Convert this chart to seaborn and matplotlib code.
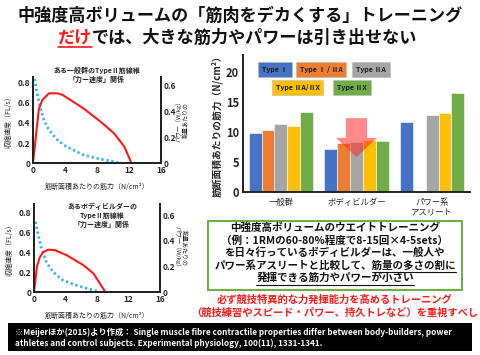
import numpy as np
import pandas as pd
import matplotlib
matplotlib.use("Agg")
import matplotlib.pyplot as plt
import seaborn as sns
from matplotlib.patches import Polygon, Rectangle
from matplotlib.lines import Line2D

# ---------------- data ----------------
top_force_v = [0.2, 0.5, 0.93, 1.36, 2.0, 3.06, 4.1, 6.24, 8.36, 10.0, 10.8]
top_velocity = [0.84, 0.70, 0.55, 0.43, 0.33, 0.23, 0.167, 0.083, 0.04, 0.015, 0.0]
top_force_p = [0, 0.4, 0.73, 1.15, 2.0, 3.08, 3.7, 6.28, 8.42, 10.1, 11.4, 12.3]
top_power = [0, 0.23, 0.42, 0.49, 0.543, 0.543, 0.53, 0.427, 0.323, 0.233, 0.129, 0]

bot_force_v = [0.2, 0.5, 0.94, 1.58, 2.44, 3.7, 5.4, 7.1, 8.2]
bot_velocity = [0.71, 0.59, 0.44, 0.30, 0.20, 0.118, 0.068, 0.027, 0.007]
bot_force_p = [0, 0.38, 0.73, 1.15, 1.8, 2.65, 4.15, 6.28, 7.56, 9.06]
bot_power = [0, 0.20, 0.27, 0.31, 0.33, 0.326, 0.287, 0.209, 0.144, 0]

groups = ["一般群", "ボディビルダー", "パワー系\nアスリート"]
fibre_types = ["Type Ⅰ", "Type Ⅰ / ⅡA", "Type ⅡA", "Type ⅡA/ⅡX", "Type ⅡX"]
type_I = [9.8, 7.2, 11.7]
type_I_IIA = [10.3, 8.2, np.nan]
type_IIA = [11.3, 8.4, 12.8]
type_IIA_IIX = [11.0, 8.7, 13.2]
type_IIX = [13.3, 8.5, 16.5]
bar_colors = ["#4472C4", "#ED7D31", "#A5A5A5", "#FFC000", "#70AD47"]

# ---------------- style ----------------
sns.set_theme(style="white")
FONTS = ["Noto Sans CJK JP", "DejaVu Sans"]
plt.rcParams["font.family"] = FONTS
plt.rcParams["axes.unicode_minus"] = False

W, H = 480, 355
fig = plt.figure(figsize=(4.8, 3.55), dpi=100)
fig.patch.set_facecolor("white")

def fx(px):
    return px / W

def fy(py):
    return 1 - py / H

def fmt(v):
    return "0" if v == 0 else f"{v:g}"

# ---------------- left panels ----------------
def curve_panel(rect, fv, vel, fp, pw, ylim_l, ylim_r, title, title_xy, right_rot, right_label, rx):
    ax = fig.add_axes(rect)
    ax2 = ax.twinx()
    sns.lineplot(x=fv, y=vel, ax=ax, color="#33B5F0", lw=2.0, linestyle=(0, (0.8, 1.0)))
    sns.lineplot(x=fp, y=pw, ax=ax2, color="#FF1A1A", lw=1.5)
    ax.set_xlim(0, 16)
    ax.set_ylim(*ylim_l)
    ax2.set_ylim(*ylim_r)
    ax.set_xticks([0, 4, 8, 12, 16])
    ax.set_yticks([0, 0.2, 0.4, 0.6, 0.8])
    ax.set_yticklabels([fmt(v) for v in [0, 0.2, 0.4, 0.6, 0.8]])
    ax2.set_yticks([0, 0.2, 0.4, 0.6])
    ax2.set_yticklabels([fmt(v) for v in [0, 0.2, 0.4, 0.6]])
    for a in (ax, ax2):
        a.tick_params(length=0, labelsize=6, pad=2)
        for lab in a.get_xticklabels() + a.get_yticklabels():
            lab.set_fontweight("bold")
        a.spines["top"].set_visible(False)
        for s in ("left", "right", "bottom"):
            a.spines[s].set_color("#222222")
            a.spines[s].set_linewidth(1.4)
        a.set_facecolor("none")
    ax.set_xlabel("筋断面積あたりの筋力（N/cm²）", fontsize=5)
    ax.xaxis.set_label_coords(0.5, -20 / (rect[3] * H))
    ax.set_ylabel("収縮速度（FL/s）", fontsize=5)
    ax.yaxis.set_label_coords(-20 / (rect[2] * W), 0.5)
    ax2.set_ylabel(right_label, fontsize=4.3, rotation=right_rot, linespacing=1.1, va="center")
    ax2.yaxis.set_label_coords(rx, 0.5)
    fig.text(fx(title_xy[0]), fy(title_xy[1]), title, ha="center", va="center",
             fontsize=5, fontweight="bold", linespacing=1.3)
    return ax, ax2

curve_panel([fx(33), fy(163), fx(161 - 33), (163 - 77) / H],
            top_force_v, top_velocity, top_force_p, top_power,
            (0, 0.86), (0, 0.67),
            "ある一般群のTypeⅡ筋線維\n「力ー速度」関係", (97, 75), 90,
            "パワー（W/kg）\n筋量あたりの", (182 - 33) / 128)
curve_panel([fx(34), fy(292), fx(160 - 34), (292 - 204) / H],
            bot_force_v, bot_velocity, bot_force_p, bot_power,
            (0, 0.89), (0, 0.686),
            "あるボディビルダーの\nTypeⅡ筋線維\n「力ー速度」関係", (102, 215), 270,
            "筋量あたりの\nパワー（W/kg）", (181 - 34) / 126)

# ---------------- bar chart ----------------
df = pd.DataFrame({
    "group": np.repeat(groups, len(fibre_types)),
    "type": fibre_types * len(groups),
    "value": np.array([type_I, type_I_IIA, type_IIA, type_IIA_IIX, type_IIX]).T.ravel(),
})
axb = fig.add_axes([fx(243), fy(192), fx(470 - 243), (192 - 55) / H])
sns.barplot(data=df, x="group", y="value", hue="type", order=groups, hue_order=fibre_types,
            palette=bar_colors, ax=axb, width=0.85, saturation=1, edgecolor="white",
            linewidth=0.4, legend=False, errorbar=None)
axb.set_xlim(-0.5, 2.5)
axb.set_ylim(0, 22.8)
axb.set_yticks([0, 5, 10, 15, 20])
axb.tick_params(length=0, pad=3)
axb.tick_params(axis="y", labelsize=8)
axb.tick_params(axis="x", labelsize=6, pad=4)
for lab in axb.get_yticklabels():
    lab.set_fontweight("bold")
axb.set_xlabel("")
axb.set_ylabel("筋断面積あたりの筋力（N/cm²）", fontsize=7, fontweight="bold", labelpad=2)
for s in ("top", "right"):
    axb.spines[s].set_visible(False)
for s in ("left", "bottom"):
    axb.spines[s].set_color("#222222")
    axb.spines[s].set_linewidth(1.4)

# legend boxes
leg_pos = [(0.141, 0.894), (0.344, 0.894), (0.564, 0.894), (0.240, 0.763), (0.480, 0.763)]
for name, col, (lx, ly) in zip(fibre_types, bar_colors, leg_pos):
    axb.text(lx, ly, name, transform=axb.transAxes, ha="center", va="center",
             fontsize=5, fontweight="bold", color="#1a1a1a",
             bbox=dict(boxstyle="square,pad=0.55", facecolor=col, edgecolor="#bbbbbb", lw=0.4))

# red arrow over body-builder group
bb = groups.index("ボディビルダー")
arrow = Polygon([(bb - 0.14, 12.3), (bb + 0.14, 12.3), (bb + 0.14, 9.0), (bb + 0.27, 9.0),
                 (bb, 5.8), (bb - 0.27, 9.0), (bb - 0.14, 9.0)], closed=True,
                facecolor="#FF2A2A", alpha=0.55, edgecolor="none", zorder=5)
axb.add_patch(arrow)

# ---------------- titles ----------------
fig.text(0.5, fy(16), "中強度高ボリュームの「筋肉をデカくする」トレーニング", ha="center", va="center",
         fontsize=12.3, fontweight="bold", color="#111111")
fig.text(fx(58), fy(38), "だけ", ha="left", va="center", fontsize=12.3,
         fontweight="bold", color="#FF1A1A")
fig.text(fx(58 + 34.2), fy(38), "では、大きな筋力やパワーは引き出せない", ha="left", va="center",
         fontsize=12.3, fontweight="bold", color="#111111")
fig.add_artist(Line2D([fx(58), fx(92)], [fy(47), fy(47)], color="#FF1A1A", lw=1.2))

# ---------------- message box ----------------
fig.add_artist(Rectangle((fx(208), fy(290)), fx(462 - 208), (290 - 221) / H,
                         facecolor="white", edgecolor="#70AD47", lw=1.5))
box_lines = ["中強度高ボリュームのウエイトトレーニング",
             "（例：1RMの60-80%程度で8-15回×4-5sets）",
             "を日々行っているボディビルダーは、一般人や",
             "パワー系アスリートと比較して、筋量の多さの割に",
             "発揮できる筋力やパワーが小さい"]
box_y = [228, 240.5, 253, 265.5, 278]
texts = []
for s, y in zip(box_lines, box_y):
    texts.append(fig.text(fx(335), fy(y), s, ha="center", va="center", fontsize=7.6,
                          fontweight="bold", color="#111111"))

fig.canvas.draw()
r = fig.canvas.get_renderer()
inv = fig.transFigure.inverted()
bb4 = texts[3].get_window_extent(r)
(x0, y0), (x1, y1) = inv.transform([(bb4.x0, bb4.y0), (bb4.x1, bb4.y1)])
n = len(box_lines[3])
fig.add_artist(Line2D([x0 + (x1 - x0) * 15 / n, x1], [fy(272)] * 2, color="#111111", lw=0.8))
bb5 = texts[4].get_window_extent(r)
(x0, y0), (x1, y1) = inv.transform([(bb5.x0, bb5.y0), (bb5.x1, bb5.y1)])
fig.add_artist(Line2D([x0, x1], [fy(284.5)] * 2, color="#111111", lw=0.8))

fig.text(fx(335), fy(300), "必ず競技特異的な力発揮能力を高めるトレーニング", ha="center", va="center",
         fontsize=7.4, fontweight="bold", color="#FF1A1A")
fig.text(fx(335), fy(313), "（競技練習やスピード・パワー、持久トレなど）を重視すべし", ha="center",
         va="center", fontsize=7.4, fontweight="bold", color="#FF1A1A")

# ---------------- footer ----------------
fig.add_artist(Rectangle((fx(8), fy(351)), fx(472 - 8), (351 - 323) / H,
                         facecolor="black", edgecolor="none"))
fig.text(fx(15), fy(332), "※Meijerほか(2015)より作成： Single muscle fibre contractile properties differ between body-builders, power",
         ha="left", va="center", fontsize=5.95, fontweight="bold", color="white")
fig.text(fx(15), fy(343), "athletes and control subjects. Experimental physiology, 100(11), 1331-1341.",
         ha="left", va="center", fontsize=5.95, fontweight="bold", color="white")

fig.savefig("out.png", dpi=100, facecolor="white")
